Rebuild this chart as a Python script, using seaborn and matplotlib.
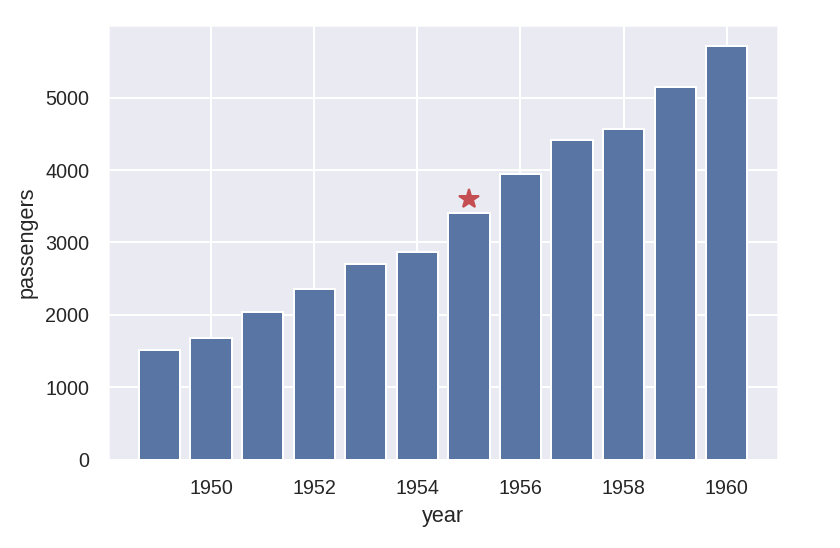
import numpy as np
import pandas as pd
import seaborn as sns
import matplotlib
matplotlib.use("Agg")
import matplotlib.pyplot as plt

# yearly totals of the flights dataset
years = [1949, 1950, 1951, 1952, 1953, 1954, 1955, 1956, 1957, 1958, 1959, 1960]
passengers = [1520, 1676, 2042, 2364, 2700, 2867, 3408, 3939, 4421, 4572, 5140, 5714]
star_year = 1955
star_value = 3600

sns.set_theme(font_scale=0.9)
plt.rcParams['font.family'] = ['Liberation Sans', 'DejaVu Sans']
plt.rcParams['text.color'] = '#262626'
fig = plt.figure(figsize=(840 / 144, 548 / 144), dpi=144)
ax = fig.add_axes([0.129, 0.161, 0.797, 0.793])

ax.bar(years, passengers, color="#5875a4")
ax.plot(star_year, star_value, "r*", markersize=10, color="#c44e52")
ax.set_xlabel("year")
ax.set_ylabel("passengers")

fig.savefig("out.png", dpi=144)
